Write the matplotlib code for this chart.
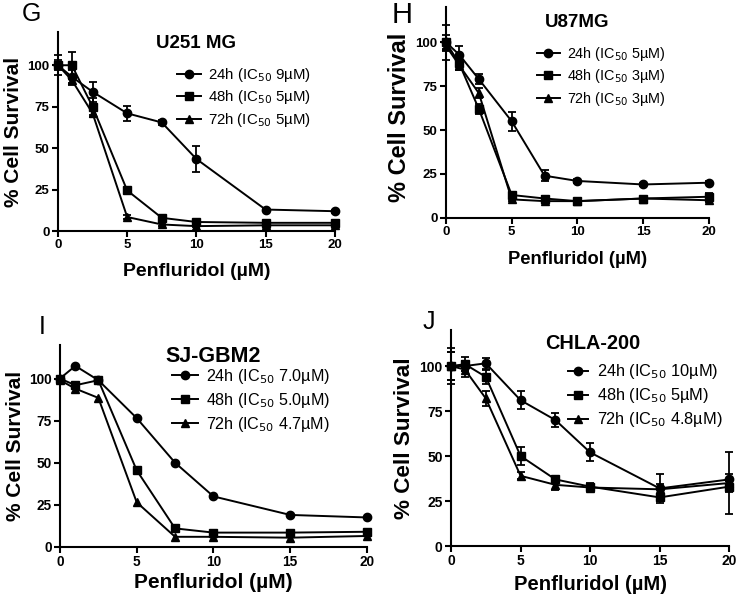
import matplotlib
matplotlib.use("Agg")
import matplotlib.pyplot as plt
import numpy as np

plt.rcParams['font.family'] = ['Liberation Sans', 'DejaVu Sans']

# ---- data ----
conc = [0, 1, 2.5, 5, 7.5, 10, 15, 20]
series_labels = ["24h", "48h", "72h"]

# Panel G: U251 MG
g_title = "U251 MG"
g_ic50 = ["9µM", "5µM", "5µM"]
g_24 = [100, 93, 84, 71, 65.5, 43.5, 13, 12]
g_48 = [100, 100, 75, 24.5, 8, 5.5, 5, 5]
g_72 = [100, 91, 71, 8.5, 4, 3, 3.5, 3.5]
g_24_err = [3, 4, 6, 4.5, 1.5, 8, 1, 1]
g_48_err = [6, 8, 5, 1.5, 2, 1, 1, 1]
g_72_err = [2, 3, 2, 1, 1, 0.5, 0.5, 0.5]

# Panel H: U87MG
h_title = "U87MG"
h_ic50 = ["5µM", "3µM", "3µM"]
h_24 = [100, 93, 79, 55, 24, 21, 19, 20]
h_48 = [100, 88, 62, 13, 11, 9.5, 11, 12]
h_72 = [98, 87, 71, 10.5, 9.5, 9.5, 11, 10]
h_24_err = [10, 5, 3, 5.5, 3, 1, 1, 1]
h_48_err = [4, 4, 3, 1.5, 1.5, 1, 1, 2]
h_72_err = [3, 3, 3, 1, 1, 1, 1, 1]

# Panel I: SJ-GBM2
i_title = "SJ-GBM2"
i_ic50 = ["7.0µM", "5.0µM", "4.7µM"]
i_24 = [100, 107.5, 99, 76.5, 50, 30, 19, 17.5]
i_48 = [100, 96, 99, 45.5, 11, 8.5, 8.5, 9]
i_72 = [99, 94, 88.5, 26.5, 6, 6, 5.5, 6.5]

# Panel J: CHLA-200
j_title = "CHLA-200"
j_ic50 = ["10µM", "5µM", "4.8µM"]
j_24 = [100, 100, 101.5, 81, 70, 52, 32, 37]
j_48 = [100, 101, 94, 50, 37, 33, 27, 33]
j_72 = [100, 98, 82, 39, 34, 32.5, 31.5, 35]
j_24_err = [10, 3, 3, 5, 4, 5, 8, 3]
j_48_err = [8, 4, 4, 5, 2, 2, 2, 3]
j_72_err = [8, 4, 4, 2, 3, 2, 3, 17]

panel_letters = ["G", "H", "I", "J"]
xticks = [0, 5, 10, 15, 20]
yticks = [0, 25, 50, 75, 100]

fig = plt.figure(figsize=(7.36, 6.05), dpi=100)

axes_rects = [
    [0.0788, 0.618, 0.376, 0.329],
    [0.606, 0.640, 0.357, 0.348],
    [0.0815, 0.096, 0.417, 0.334],
    [0.6128, 0.0975, 0.378, 0.357],
]
letter_pos = [(0.029, 0.996), (0.532, 0.998), (0.052, 0.480), (0.574, 0.488)]
letter_size = [18, 21, 18, 18]
title_pos = [(0.50, 0.985), (0.50, 0.97), (0.50, 0.995), (0.51, 0.98)]
title_size = [13.5, 13.5, 15.5, 14.3]
legend_anchor = [(0.43, 0.83), (0.346, 0.82), (0.365, 0.89), (0.42, 0.85)]
legend_size = [10.8, 10.4, 11.6, 11.8]
legend_hlen = [1.6, 1.6, 1.6, 1.25]
xlabel_size = [14, 13.2, 15, 14.6]
xlabel_pad = [8, 9, 3, 5]
ylabel_size = [15, 17, 15, 16.2]
ylabel_y = [0.5, 0.475, 0.5, 0.5]
tick_size = [9.5, 9.5, 9.8, 10]

panels = [
    (g_title, g_ic50, [g_24, g_48, g_72], [g_24_err, g_48_err, g_72_err]),
    (h_title, h_ic50, [h_24, h_48, h_72], [h_24_err, h_48_err, h_72_err]),
    (i_title, i_ic50, [i_24, i_48, i_72], [None, None, None]),
    (j_title, j_ic50, [j_24, j_48, j_72], [j_24_err, j_48_err, j_72_err]),
]
markers = ["o", "s", "^"]

for k, (title, ic50, ys, errs) in enumerate(panels):
    ax = fig.add_axes(axes_rects[k])
    handles = []
    labels = []
    for s in range(3):
        lab = f"{series_labels[s]} (IC$_{{50}}$ {ic50[s]})"
        cont = ax.errorbar(conc, ys[s], yerr=errs[s], color="black", marker=markers[s],
                           markersize=6, linewidth=1.4, capsize=3, elinewidth=1.3,
                           capthick=1.3, clip_on=False, zorder=3)
        for art in cont.get_children():
            art.set_clip_on(False)
        handles.append(cont[0])
        labels.append(lab)
    ax.set_xlim(0, 20)
    ax.set_ylim(0, 120)
    ax.set_xticks(xticks)
    ax.set_yticks(yticks)
    for sp in ["top", "right"]:
        ax.spines[sp].set_visible(False)
    for sp in ["left", "bottom"]:
        ax.spines[sp].set_linewidth(1.5)
    ax.tick_params(direction="out", length=4, width=1.5, labelsize=tick_size[k], pad=2)
    for t in ax.get_xticklabels() + ax.get_yticklabels():
        t.set_fontweight("bold")
    ax.set_xlabel("Penfluridol (µM)", fontsize=xlabel_size[k], fontweight="bold",
                  labelpad=xlabel_pad[k])
    ax.set_ylabel("% Cell Survival", fontsize=ylabel_size[k], fontweight="bold", labelpad=3)
    ax.yaxis.label.set_y(ylabel_y[k])
    ax.text(title_pos[k][0], title_pos[k][1], title, transform=ax.transAxes, ha="center",
            va="top", fontsize=title_size[k], fontweight="bold")
    ax.legend(handles, labels, loc="upper left", bbox_to_anchor=legend_anchor[k],
              frameon=False, fontsize=legend_size[k], handlelength=legend_hlen[k],
              handletextpad=0.5, labelspacing=0.3, borderaxespad=0, borderpad=0)
    fig.text(letter_pos[k][0], letter_pos[k][1], panel_letters[k],
             fontsize=letter_size[k], va="top", ha="left")

fig.savefig("out.png", dpi=100)
